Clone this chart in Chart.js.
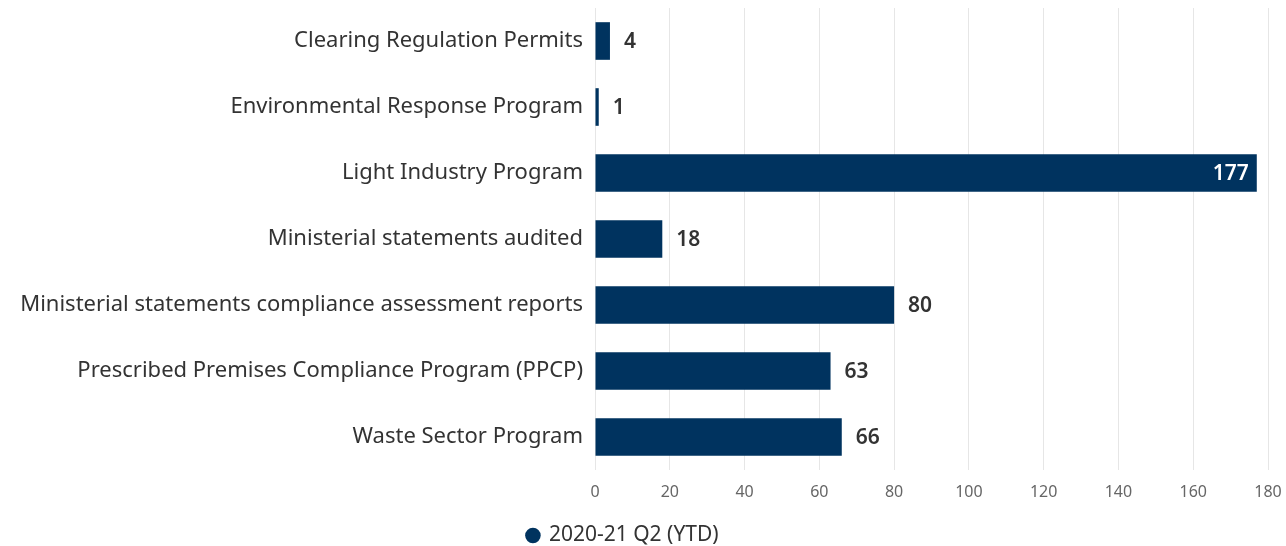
<!DOCTYPE html>
<html>
<head>
<meta charset="utf-8">
<script src="https://cdn.jsdelivr.net/npm/chart.js@4"></script>
<style>
  html, body { margin: 0; padding: 0; background: #fff; }
  .wrap { width: 1286px; height: 546px; }
</style>
</head>
<body>
<div class="wrap"><canvas id="chart" width="1286" height="546"></canvas></div>
<script>
"use strict";

const categories = [
    "Clearing Regulation Permits",
    "Environmental Response Program",
    "Light Industry Program",
    "Ministerial statements audited",
    "Ministerial statements compliance assessment reports",
    "Prescribed Premises Compliance Program (PPCP)",
    "Waste Sector Program"
];
const seriesName = "2020-21 Q2 (YTD)";
const seriesValues = [4, 1, 177, 18, 80, 63, 66];
const xTicks = [0, 20, 40, 60, 80, 100, 120, 140, 160, 180];

const barColor = "#00335f";
const fontFamily = "'Noto Sans', 'Open Sans', sans-serif";

// draws the value next to each bar, or inside it when there is no room
const valueLabels = {
    id: "valueLabels",
    afterDatasetsDraw(chart) {
        const ctx = chart.ctx;
        const meta = chart.getDatasetMeta(0);
        const area = chart.chartArea;
        ctx.save();
        ctx.font = "600 21px " + fontFamily;
        ctx.textBaseline = "middle";
        meta.data.forEach((bar, i) => {
            const text = String(seriesValues[i]);
            const w = ctx.measureText(text).width;
            if (bar.x + 14 + w > area.right) {
                ctx.fillStyle = "#ffffff";
                ctx.textAlign = "right";
                ctx.fillText(text, bar.x - 8, bar.y + 1);
            } else {
                ctx.fillStyle = "#333333";
                ctx.textAlign = "left";
                ctx.fillText(text, bar.x + 14, bar.y + 1);
            }
        });
        ctx.restore();
    }
};

// the legend sits a little left of the canvas centre and close to the bottom
const legendShift = {
    id: "legendShift",
    afterLayout(chart) {
        chart.legend.left = 0;
        chart.legend.right = 1246;
        chart.legend.top += 10;
        chart.legend.bottom += 10;
    }
};

new Chart(document.getElementById("chart"), {
    type: "bar",
    data: {
        labels: categories,
        datasets: [{
            label: seriesName,
            data: seriesValues,
            backgroundColor: barColor,
            borderWidth: 0,
            barPercentage: 0.57,
            categoryPercentage: 1
        }]
    },
    options: {
        indexAxis: "y",
        responsive: false,
        animation: false,
        layout: { padding: { top: 8, right: 18, left: 0, bottom: 0 } },
        scales: {
            x: {
                min: 0,
                max: 180,
                afterBuildTicks(scale) {
                    scale.ticks = xTicks.map(v => ({ value: v }));
                },
                afterFit(scale) {
                    scale.height = 43;
                    scale.paddingLeft = 0;
                    scale.paddingRight = 0;
                },
                grid: { color: "#e6e6e6", drawTicks: false },
                border: { display: false },
                ticks: {
                    color: "#666666",
                    padding: 13,
                    font: { family: fontFamily, size: 16 }
                }
            },
            y: {
                afterFit(scale) {
                    scale.width = 595;
                    scale.paddingTop = 0;
                    scale.paddingBottom = 0;
                },
                grid: { display: false },
                border: { display: false },
                ticks: {
                    color: "#333333",
                    padding: 4,
                    font: { family: fontFamily, size: 22 }
                }
            }
        },
        plugins: {
            tooltip: { enabled: false },
            legend: {
                position: "bottom",
                labels: {
                    usePointStyle: true,
                    pointStyle: "circle",
                    boxWidth: 11,
                    boxHeight: 11,
                    padding: 2,
                    color: "#333333",
                    font: { family: fontFamily, size: 21 }
                }
            }
        }
    },
    plugins: [valueLabels, legendShift]
});
</script>
</body>
</html>
